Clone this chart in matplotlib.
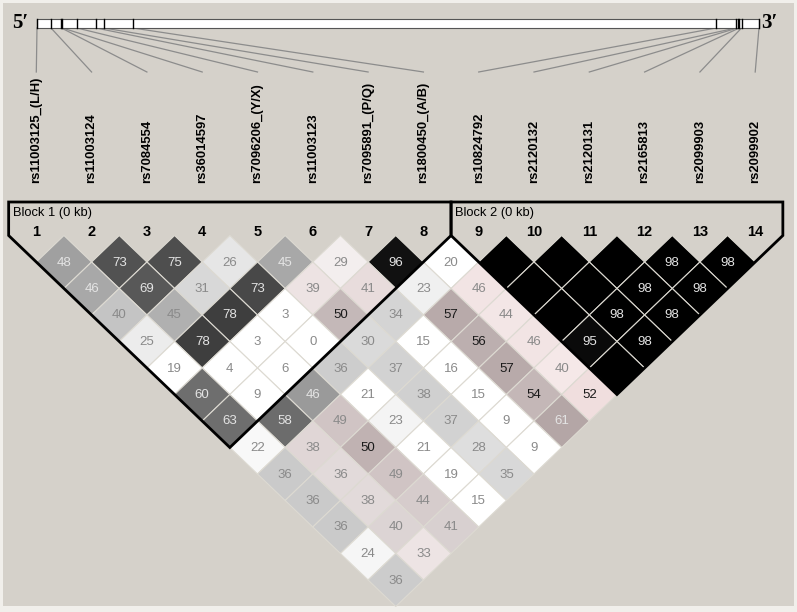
import matplotlib
matplotlib.use('Agg')
import matplotlib.pyplot as plt
from matplotlib.patches import Polygon, Rectangle
from matplotlib import font_manager
import matplotlib.colors as mcolors

# SNP names, in marker order
snp_names = ['rs11003125_(L/H)', 'rs11003124', 'rs7084554', 'rs36014597',
             'rs7096206_(Y/X)', 'rs11003123', 'rs7095891_(P/Q)', 'rs1800450_(A/B)',
             'rs10824792', 'rs2120132', 'rs2120131', 'rs2165813', 'rs2099903', 'rs2099902']

# relative position of each SNP along the gene bar (0 = 5' end, 1 = 3' end)
snp_bar_pos = [0.0, 0.0194, 0.0339, 0.0353, 0.0554, 0.0817, 0.0928, 0.133,
               0.9404, 0.9681, 0.9703, 0.9726, 0.9758, 1.0]

# D' values (x100), one list per marker distance (row 1 = neighbours); None = 1.0 (no number)
ld_rows = [
    [48, 73, 75, 26, 45, 29, 96, 20, None, None, None, 98, 98],
    [46, 69, 31, 73, 39, 41, 23, 46, None, None, 98, 98],
    [40, 45, 78, 3, 50, 34, 57, 44, None, 98, 98],
    [25, 78, 3, 0, 30, 15, 56, 46, 95, 98],
    [19, 4, 6, 36, 37, 16, 57, 40, None],
    [60, 9, 46, 21, 38, 15, 54, 52],
    [63, 58, 49, 23, 37, 9, 61],
    [22, 38, 50, 21, 28, 9],
    [36, 36, 49, 19, 35],
    [36, 38, 44, 15],
    [36, 40, 41],
    [24, 33],
    [36],
]

# cell shading, same layout as ld_rows
shade_rows = [
    ['#a0a0a0', '#525252', '#4e4e4e', '#e6e6e6', '#a8a8a8', '#f3eeee', '#111111', '#ffffff',
     '#000000', '#000000', '#000000', '#000000', '#000000'],
    ['#a8a8a8', '#585858', '#d8d8d8', '#484848', '#ede3e3', '#e8dcdc', '#f0f0f0', '#f2e4e4',
     '#000000', '#000000', '#000000', '#000000'],
    ['#c4c4c4', '#b0b0b0', '#3e3e3e', '#ffffff', '#c4b8b8', '#d4d4d4', '#b8aaaa', '#f3e6e6',
     '#000000', '#000000', '#000000'],
    ['#ececec', '#3e3e3e', '#ffffff', '#ffffff', '#dadada', '#ffffff', '#bcafaf', '#f2e4e4',
     '#0a0a0a', '#000000'],
    ['#ffffff', '#ffffff', '#ffffff', '#cdcdcd', '#d2d2d2', '#ffffff', '#b8aaaa', '#f5e8e8', '#000000'],
    ['#6e6e6e', '#ffffff', '#9a9a9a', '#ffffff', '#d0d0d0', '#ffffff', '#c4b7b7', '#f0dede'],
    ['#6e6e6e', '#6c6c6c', '#d0c4c4', '#f4f4f4', '#d2d2d2', '#ffffff', '#b4a6a6'],
    ['#f8f8f8', '#e0d6d6', '#c0b2b2', '#ffffff', '#dedede', '#ffffff'],
    ['#cacaca', '#e2dada', '#d0c4c4', '#ffffff', '#d8d8d8'],
    ['#cacaca', '#e2dada', '#d6cccc', '#ffffff'],
    ['#cacaca', '#dcd4d4', '#d8d0d0'],
    ['#f6f6f6', '#ede4e4'],
    ['#cccccc'],
]

# haplotype blocks (first marker, last marker), 1-based
blocks = [(1, 8), (9, 14)]
block_names = ['Block 1 (0 kb)', 'Block 2 (0 kb)']

# layout (pixels)
W, H = 797, 612
sp = 55.3          # marker spacing
x1 = 36.3          # x of marker 1
hw = sp / 2        # half width of a diamond
rh = 26.5          # half height of a diamond
y_top = 235.5      # top vertex of first row
bar_l, bar_r, bar_t, bar_b = 37, 759, 19, 28


def mx(k):
    return x1 + sp * (k - 1)


names = {f.name for f in font_manager.fontManager.ttflist}
narrow = 'Liberation Sans Narrow' if 'Liberation Sans Narrow' in names else 'Liberation Sans'

fig = plt.figure(figsize=(W / 100, H / 100), dpi=100, facecolor='#f1efeb')
ax = fig.add_axes([0, 0, 1, 1])
ax.set_xlim(0, W)
ax.set_ylim(H, 0)
ax.axis('off')

ax.add_patch(Rectangle((3, 3), W - 6, H - 9, facecolor='#d5d1ca', edgecolor='none', zorder=0))

# gene bar
ax.add_patch(Rectangle((bar_l, bar_t), bar_r - bar_l, bar_b - bar_t,
                       facecolor='white', edgecolor='#555555', lw=0.8, zorder=2))
for k, p in enumerate(snp_bar_pos, start=1):
    gx = bar_l + p * (bar_r - bar_l)
    ax.plot([gx, gx], [bar_t, bar_b], color='black', lw=1.0, zorder=3)
    ax.plot([gx, mx(k)], [bar_b, 72], color='#8c8c8c', lw=0.9, zorder=1)
    ax.text(mx(k), 183, snp_names[k - 1], rotation=90, ha='center', va='bottom',
            fontsize=11.4 if narrow != 'Liberation Sans' else 9.4,
            family=narrow, fontweight='bold', color='black')

ax.text(12, 23, '5\u2032', family=['Liberation Serif', 'DejaVu Serif'], fontweight='bold',
        fontsize=15, ha='left', va='center')
ax.text(761, 23, '3\u2032', family=['Liberation Serif', 'DejaVu Serif'], fontweight='bold',
        fontsize=15, ha='left', va='center')

# LD diamonds
for d, (vals, cols) in enumerate(zip(ld_rows, shade_rows), start=1):
    for m, (v, c) in enumerate(zip(vals, cols)):
        i, j = m + 1, m + 1 + d
        cx = (mx(i) + mx(j)) / 2
        cy = y_top + rh * d
        ax.add_patch(Polygon([(cx, cy - rh), (cx + hw, cy), (cx, cy + rh), (cx - hw, cy)],
                             closed=True, facecolor=c, edgecolor='#dddad2', lw=0.8, zorder=2))
        if v is None:
            continue
        r, g, b = mcolors.to_rgb(c)
        lum = 0.3 * r + 0.59 * g + 0.11 * b
        if lum < 0.68:
            tc = '#e4e4e4'
        elif r - g > 0.02 and v >= 50:
            tc = '#1a1a1a'
        else:
            tc = '#8a8a8a'
        ax.text(cx, cy + 0.5, str(v), ha='center', va='center', fontsize=9.5,
                family='Liberation Sans', color=tc, zorder=3)

# block outlines, labels and marker numbers
for (a, b), name in zip(blocks, block_names):
    left = mx(a) - hw
    right = mx(b) + hw
    bottom = ((mx(a) + mx(b)) / 2, y_top + rh * (b - a + 1))
    pts = [(left, y_top), (left, 202), (right, 202), (right, y_top), bottom]
    ax.add_patch(Polygon(pts, closed=True, facecolor='none', edgecolor='black', lw=2.0, zorder=4))
    ax.text(left + 4, 213, name, ha='left', va='center', fontsize=9.3, family='Liberation Sans')
    for k in range(a, b + 1):
        ax.text(mx(k), 232, str(k), ha='center', va='center', fontsize=10.5,
                family='Liberation Sans', fontweight='bold')

fig.savefig('out.png', dpi=100, facecolor=fig.get_facecolor())
